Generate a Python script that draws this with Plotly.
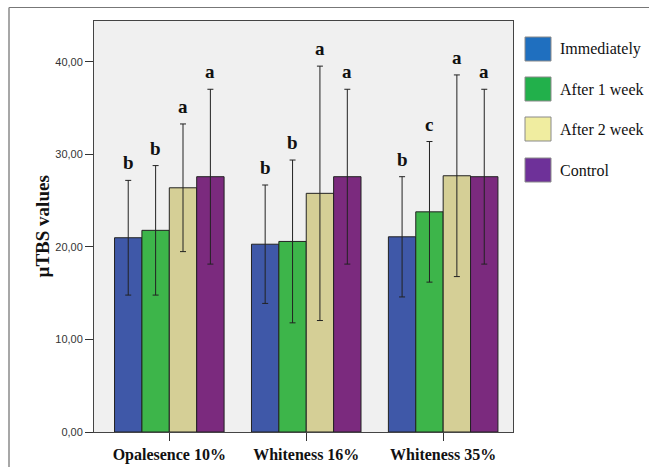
import plotly.graph_objects as go

categories = ["Opalesence 10%", "Whiteness 16%", "Whiteness 35%"]
series_names = ["Immediately", "After 1 week", "After 2 week", "Control"]
means = {
    "Immediately": [21.0, 20.3, 21.1],
    "After 1 week": [21.8, 20.6, 23.8],
    "After 2 week": [26.4, 25.8, 27.7],
    "Control": [27.6, 27.6, 27.6],
}
errors = {
    "Immediately": [6.2, 6.4, 6.5],
    "After 1 week": [7.0, 8.8, 7.6],
    "After 2 week": [6.9, 13.75, 10.9],
    "Control": [9.45, 9.45, 9.45],
}
letters = {
    "Immediately": ["b", "b", "b"],
    "After 1 week": ["b", "b", "c"],
    "After 2 week": ["a", "a", "a"],
    "Control": ["a", "a", "a"],
}
ytick_vals = [0, 10, 20, 30, 40]
ytick_text = ["0,00", "10,00", "20,00", "30,00", "40,00"]

bar_colors = ["#3F58A8", "#3DB54A", "#D5CF96", "#7B2A7E"]
legend_colors = ["#1F6FBF", "#22B04B", "#F0EDA0", "#6E3199"]

L, R, T, B = 94, 136, 21, 35
W, H = 649, 467
pw, ph = W - L - R, H - T - B

fig = go.Figure()
xs = list(range(len(categories)))
for i, name in enumerate(series_names):
    fig.add_trace(go.Bar(
        x=xs, y=means[name], name=name,
        marker=dict(color=bar_colors[i], line=dict(color="#222222", width=1)),
        error_y=dict(type="data", array=errors[name], color="#222222",
                     thickness=1, width=3),
        showlegend=False,
    ))

offsets = [-0.3, -0.1, 0.1, 0.3]
annotations = []
for i, name in enumerate(series_names):
    for j in xs:
        annotations.append(dict(
            x=j + offsets[i], y=means[name][j] + errors[name][j],
            xref="x", yref="y", text="<b>" + letters[name][j] + "</b>",
            showarrow=False, yanchor="bottom", yshift=5,
            font=dict(family="Liberation Serif", size=19, color="#111111"),
        ))

def px_x(p):
    return (p - L) / pw

def px_y(p):
    return (H - B - p) / ph

shapes = []
# outer frame (top and left edges only)
shapes.append(dict(type="line", xref="paper", yref="paper",
                   x0=px_x(9), x1=px_x(649), y0=px_y(7.5), y1=px_y(7.5),
                   line=dict(color="#777777", width=1)))
shapes.append(dict(type="line", xref="paper", yref="paper",
                   x0=px_x(9), x1=px_x(9), y0=px_y(7.5), y1=px_y(467),
                   line=dict(color="#8A8A8A", width=1.5)))
# legend
leg_y = [49, 89, 129, 170]
for i, name in enumerate(series_names):
    cy = leg_y[i]
    shapes.append(dict(type="rect", xref="paper", yref="paper",
                       x0=px_x(525), x1=px_x(551), y0=px_y(cy + 12), y1=px_y(cy - 12),
                       fillcolor=legend_colors[i], line=dict(color="#8A8A8A", width=1)))
    annotations.append(dict(x=px_x(558), y=px_y(cy), xref="paper", yref="paper",
                            text=name, showarrow=False, xanchor="left", yanchor="middle",
                            font=dict(family="Liberation Serif", size=16, color="#111111")))

# y-axis title
annotations.append(dict(x=px_x(42), y=0.5, xref="paper", yref="paper",
                        text="<b>µTBS values</b>", textangle=-90, showarrow=False,
                        xanchor="center", yanchor="middle",
                        font=dict(family="Liberation Serif", size=19, color="#111111")))

fig.update_layout(
    width=W, height=H,
    margin=dict(l=L, r=R, t=T, b=B, autoexpand=False),
    paper_bgcolor="white", plot_bgcolor="#F0F0F0",
    barmode="group", bargap=0.2, bargroupgap=0,
    annotations=annotations, shapes=shapes,
    xaxis=dict(range=[-0.55, 2.51], tickvals=xs,
               ticktext=["<b>" + c + "</b>" for c in categories],
               ticks="outside", ticklen=8, tickcolor="#333333",
               tickfont=dict(family="Liberation Serif", size=16, color="#111111"),
               showline=True, linecolor="#444444", mirror=True, showgrid=False,
               zeroline=False, automargin=False),
    yaxis=dict(range=[0, 44.43], tickvals=ytick_vals, ticktext=ytick_text,
               ticks="outside", ticklen=8, tickcolor="#333333",
               tickfont=dict(family="Liberation Sans", size=11, color="#333333"),
               showline=True, linecolor="#444444", mirror=True, showgrid=False,
               zeroline=False, automargin=False),
)

fig.write_html("out.html", config={"displayModeBar": False},
               post_script="document.body.style.margin='0';document.body.style.overflow='hidden';")
